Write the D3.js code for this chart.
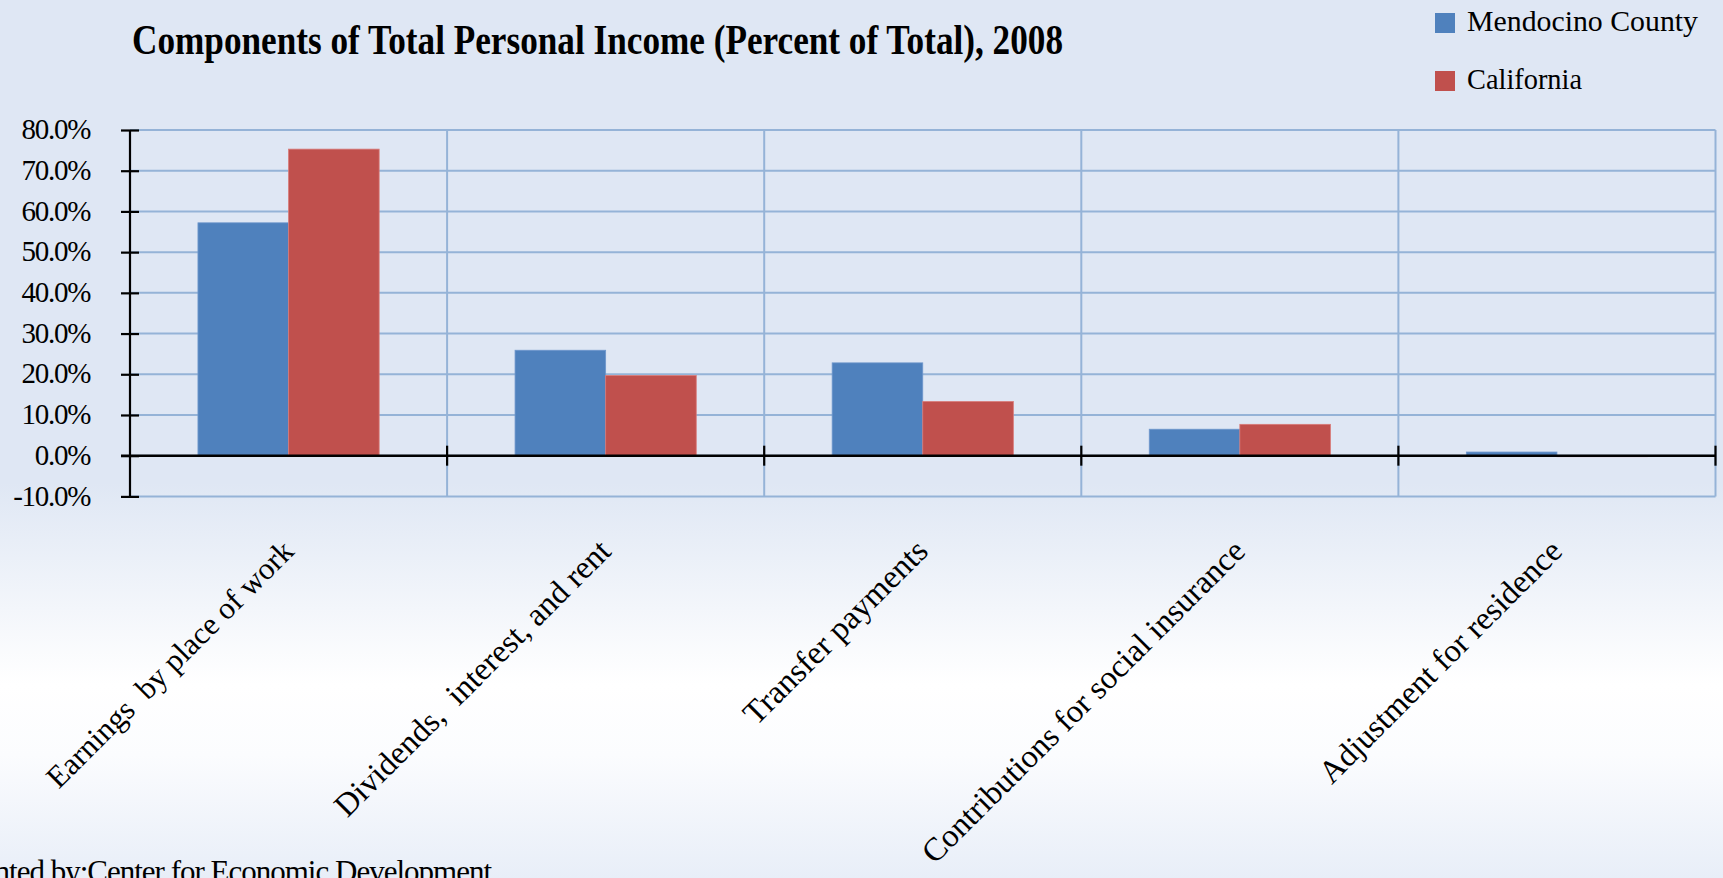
<!DOCTYPE html>
<html>
<head>
<meta charset="utf-8">
<script src="https://cdn.jsdelivr.net/npm/d3@7"></script>
<style>
  html, body { margin: 0; padding: 0; overflow: hidden; }
  svg { display: block; }
  text { font-family: "Liberation Serif", "Times New Roman", serif; fill: #000; }
</style>
</head>
<body>
<script>
const categories = [
  "Earnings  by place of work",
  "Dividends,  interest, and rent",
  "Transfer payments",
  "Contributions for social insurance",
  "Adjustment for residence"
];
const seriesNames = ["Mendocino County", "California"];
const mendocino = [57.2, 25.9, 22.8, 6.5, 0.9];
const california = [75.3, 19.7, 13.3, 7.7, -0.2];
const tickValues = [-10, 0, 10, 20, 30, 40, 50, 60, 70, 80];
const tickLabels = ["-10.0%", "0.0%", "10.0%", "20.0%", "30.0%", "40.0%", "50.0%", "60.0%", "70.0%", "80.0%"];
const titleText = "Components of Total Personal Income (Percent of Total), 2008";
const footerText = "Presented by:Center for Economic Development";

const W = 1723, H = 878;
const colors = { "Mendocino County": "#4f81bd", "California": "#c0504d" };
const strokes = { "Mendocino County": "#6f97cc", "California": "#d97a78" };
const gridColor = "#95b3d7";

const svg = d3.select("body").append("svg").attr("width", W).attr("height", H);

// background gradient
const defs = svg.append("defs");
const grad = defs.append("linearGradient").attr("id", "bg").attr("x1", 0).attr("y1", 0).attr("x2", 0).attr("y2", 1);
[[0, "#dfe7f4"], [0.55, "#dfe7f4"], [0.78, "#ffffff"], [0.86, "#fbfcfe"], [1, "#e8eef8"]].forEach(([o, c]) =>
  grad.append("stop").attr("offset", o).attr("stop-color", c));
svg.append("rect").attr("width", W).attr("height", H).attr("fill", "url(#bg)");

const plotLeft = 130, plotRight = 1715.5;
const x0 = d3.scaleBand().domain(categories).range([plotLeft, plotRight]).padding(0);
const x1 = d3.scaleBand().domain(seriesNames).range([0, x0.bandwidth()]).paddingInner(0).paddingOuter(0.75);
const y = d3.scaleLinear().domain([-10, 80]).range([496.4, 130]);

// horizontal gridlines
svg.append("g").selectAll("line").data(tickValues).join("line")
  .attr("x1", plotLeft).attr("x2", plotRight)
  .attr("y1", d => y(d)).attr("y2", d => y(d))
  .attr("stroke", gridColor).attr("stroke-width", 2);

// vertical gridlines at category boundaries
svg.append("g").selectAll("line").data(categories).join("line")
  .attr("x1", d => x0(d) + x0.bandwidth()).attr("x2", d => x0(d) + x0.bandwidth())
  .attr("y1", y(80)).attr("y2", y(-10))
  .attr("stroke", gridColor).attr("stroke-width", 2);

// bars
const rows = categories.map((c, i) => ({ cat: c, vals: [
  { s: seriesNames[0], v: mendocino[i] },
  { s: seriesNames[1], v: california[i] }
]}));
const groups = svg.append("g").selectAll("g").data(rows).join("g")
  .attr("transform", d => `translate(${x0(d.cat)},0)`);
groups.selectAll("rect").data(d => d.vals).join("rect")
  .attr("x", d => x1(d.s))
  .attr("width", x1.bandwidth())
  .attr("y", d => y(Math.max(0, d.v)))
  .attr("height", d => Math.max(1, Math.abs(y(d.v) - y(0))))
  .attr("fill", d => colors[d.s])
  .attr("stroke", d => strokes[d.s]).attr("stroke-width", 0.8);

// y axis
const yAxis = svg.append("g").attr("transform", `translate(${plotLeft},0)`)
  .call(d3.axisLeft(y).tickValues(tickValues).tickSize(9).tickPadding(40)
    .tickFormat((d, i) => tickLabels[i]));
yAxis.select(".domain").attr("d", `M0,${y(80)}V${y(-10)}`).attr("stroke", "#000").attr("stroke-width", 2.2);
yAxis.selectAll(".tick line").attr("x1", 9).attr("x2", -9).attr("stroke", "#000").attr("stroke-width", 2.2);
yAxis.selectAll(".tick text")
  .attr("x", -40).attr("dy", "0.30em")
  .style("font-size", "29px").style("letter-spacing", "-1.3px")
  .style("font-family", "'Liberation Serif', serif").attr("fill", "#000");

// x axis at zero
const boundaries = categories.map(c => x0(c) + x0.bandwidth());
const xAxisG = svg.append("g");
xAxisG.append("line")
  .attr("x1", plotLeft - 9).attr("x2", plotRight)
  .attr("y1", y(0)).attr("y2", y(0))
  .attr("stroke", "#000").attr("stroke-width", 2.4);
xAxisG.selectAll("line.t").data(boundaries).join("line").attr("class", "t")
  .attr("x1", d => d).attr("x2", d => d)
  .attr("y1", y(0) - 10).attr("y2", y(0) + 10)
  .attr("stroke", "#000").attr("stroke-width", 2.2);

// category labels (rotated)
const labelSizes = [31, 32.5, 33, 32.5, 32.5];
svg.append("g").selectAll("text").data(categories).join("text")
  .attr("transform", d => `translate(${x0(d) + x0.bandwidth() / 2 + 7},553) rotate(-45)`)
  .attr("text-anchor", "end")
  .style("font-size", (d, i) => labelSizes[i] + "px")
  .style("white-space", "pre")
  .text(d => d);

// title
svg.append("text")
  .attr("x", 132).attr("y", 54)
  .style("font-size", "42px").style("font-weight", "bold")
  .attr("textLength", 931).attr("lengthAdjust", "spacingAndGlyphs")
  .text(titleText);

// legend
const legend = svg.append("g");
const legendY = [13, 71];
const legendLen = [231, 115];
seriesNames.forEach((s, i) => {
  legend.append("rect").attr("x", 1435).attr("y", legendY[i]).attr("width", 20).attr("height", 20).attr("fill", colors[s]);
  legend.append("text").attr("x", 1467).attr("y", legendY[i] + 18)
    .style("font-size", "30px")
    .attr("textLength", legendLen[i]).attr("lengthAdjust", "spacingAndGlyphs")
    .text(s);
});

// footer
svg.append("text")
  .attr("x", 491).attr("y", 882)
  .attr("text-anchor", "end")
  .style("font-size", "31px").style("letter-spacing", "-1px")
  .text(footerText);
</script>
</body>
</html>
